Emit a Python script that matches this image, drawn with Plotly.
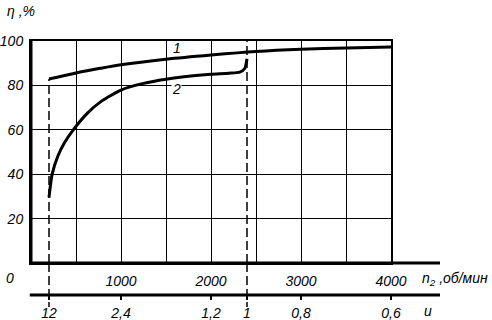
import plotly.graph_objects as go

# ---- data ----
N1 = 2400  # input speed: n2 = N1 / u
CURVE1_N = [200, 500, 770, 1000, 1500, 2000, 2500, 3000, 3500, 4000]
CURVE1_ETA = [82.9, 85.6, 87.7, 89.3, 91.8, 93.7, 95.3, 96.3, 96.9, 97.3]
CURVE2_N = [200, 235, 300, 375, 470, 630, 780, 1000, 1250, 1500, 1750, 2000, 2200, 2320, 2375, 2400]
CURVE2_ETA = [29.5, 40.0, 48.3, 54.4, 60.0, 67.6, 72.8, 77.9, 80.9, 82.8, 84.1, 85.0, 85.5, 86.0, 87.6, 92.0]
N_TICKS = [0, 500, 1000, 1500, 2000, 2500, 3000, 3500, 4000]
N_LABELS = ["", "", "1000", "", "2000", "", "3000", "", "4000"]
U_VALUES = [12, 2.4, 1.2, 1, 0.8, 0.6]
U_LABELS = ["12", "2,4", "1,2", "1", "0,8", "0,6"]
ETA_TICKS = [20, 40, 60, 80, 100]
ETA_LABELS = ["20", "40", "60", "80", "100"]
DASHED_U = [12, 1]

FONT = dict(family="Liberation Sans", size=14, color="black", style="italic")

W, H = 492, 320
L, R, T, B = 31, 52, 41, 0
PLOT_W = 360
PLOT_BOTTOM_PX = 263
U_AXIS_PX = 295
DASH_END_PX = 307
paper_h = H - T - B
d = (H - PLOT_BOTTOM_PX) / paper_h
u_pos = (H - U_AXIS_PX) / paper_h
dash_end = (H - DASH_END_PX) / paper_h
x_dom = PLOT_W / (W - L - R)

fig = go.Figure()

# dashed reference lines inside the plot
for u in DASHED_U:
    n = N1 / u
    top = CURVE1_ETA[0] if u == DASHED_U[0] else 100
    fig.add_trace(go.Scatter(x=[n, n], y=[0, top], mode="lines",
                             line=dict(color="black", width=1.5, dash="9px,4px"),
                             hoverinfo="skip", showlegend=False))
    fig.add_shape(type="line", xref="x", yref="paper", x0=n, x1=n, y0=d, y1=dash_end,
                  line=dict(color="black", width=1.5, dash="9px,4px"))

fig.add_trace(go.Scatter(x=CURVE1_N, y=CURVE1_ETA, mode="lines",
                         line=dict(color="black", width=3, shape="spline", smoothing=0.8),
                         showlegend=False))
fig.add_trace(go.Scatter(x=CURVE2_N, y=CURVE2_ETA, mode="lines",
                         line=dict(color="black", width=3, shape="spline", smoothing=0.6),
                         showlegend=False))
# carrier trace for the u axis
fig.add_trace(go.Scatter(x=[None], y=[None], xaxis="x2", showlegend=False, hoverinfo="skip"))

# thick left and extended bottom lines, u axis line
fig.add_shape(type="line", xref="paper", yref="paper", x0=0, x1=0, y0=d, y1=1,
              line=dict(color="black", width=3))
fig.add_shape(type="line", xref="paper", yref="paper", x0=0, x1=1, y0=d, y1=d,
              line=dict(color="black", width=3))
fig.add_shape(type="line", xref="paper", yref="paper", x0=-0.003, x1=1, y0=u_pos, y1=u_pos,
              line=dict(color="black", width=3))

annotations = [
    dict(text="η ,%", xref="paper", yref="paper", x=0, y=1, xshift=-26, yshift=30,
         xanchor="left", yanchor="middle", showarrow=False, font=FONT),
    dict(text="0", xref="x", yref="paper", x=0, y=d, xshift=-21, yshift=-15,
         xanchor="center", yanchor="middle", showarrow=False, font=FONT),
    dict(text="n<sub>2</sub> ,об/мин", xref="paper", yref="paper", x=1, y=d, xshift=50, yshift=-16,
         xanchor="right", yanchor="middle", showarrow=False, font=FONT),
    dict(text="u", xref="paper", yref="paper", x=1, y=u_pos, xshift=-12, yshift=-16,
         xanchor="center", yanchor="middle", showarrow=False, font=FONT),
    dict(text="1", xref="x", yref="y", x=1620, y=96.9, showarrow=False, font=FONT,
         xanchor="center", yanchor="middle"),
    dict(text="2", xref="x", yref="y", x=1620, y=78.5, showarrow=False, font=FONT,
         xanchor="center", yanchor="middle", bgcolor="white", borderpad=0),
]

fig.update_layout(
    width=W, height=H,
    margin=dict(l=L, r=R, t=T, b=B, pad=0, autoexpand=False),
    paper_bgcolor="white", plot_bgcolor="white",
    font=FONT,
    showlegend=False,
    annotations=annotations,
    xaxis=dict(domain=[0, x_dom], range=[0, 4000], tickmode="array", tickvals=N_TICKS,
               ticktext=N_LABELS, showgrid=True, gridcolor="black", gridwidth=1,
               showline=True, linecolor="black", linewidth=2, mirror=True, automargin=False,
               ticks="", zeroline=False, ticklabelstandoff=4, tickfont=FONT),
    xaxis2=dict(overlaying="x", anchor="free", position=u_pos, range=[0, 4000],
                tickmode="array", tickvals=[N1 / u for u in U_VALUES], ticktext=U_LABELS,
                showgrid=False, showline=False, zeroline=False, automargin=False,
                ticks="outside", ticklen=4, tickwidth=1.5, tickcolor="black",
                ticklabelstandoff=1, tickfont=FONT),
    yaxis=dict(domain=[d, 1], range=[0, 100], tickmode="array", tickvals=ETA_TICKS,
               ticktext=ETA_LABELS, showgrid=True, gridcolor="black", gridwidth=1,
               showline=True, linecolor="black", linewidth=2, mirror=True, automargin=False,
               ticks="", zeroline=False, ticklabelstandoff=3, tickfont=FONT),
)

fig.write_html("out.html", config={"displayModeBar": False},
               post_script="document.body.style.margin='0';document.body.style.overflow='hidden';")
